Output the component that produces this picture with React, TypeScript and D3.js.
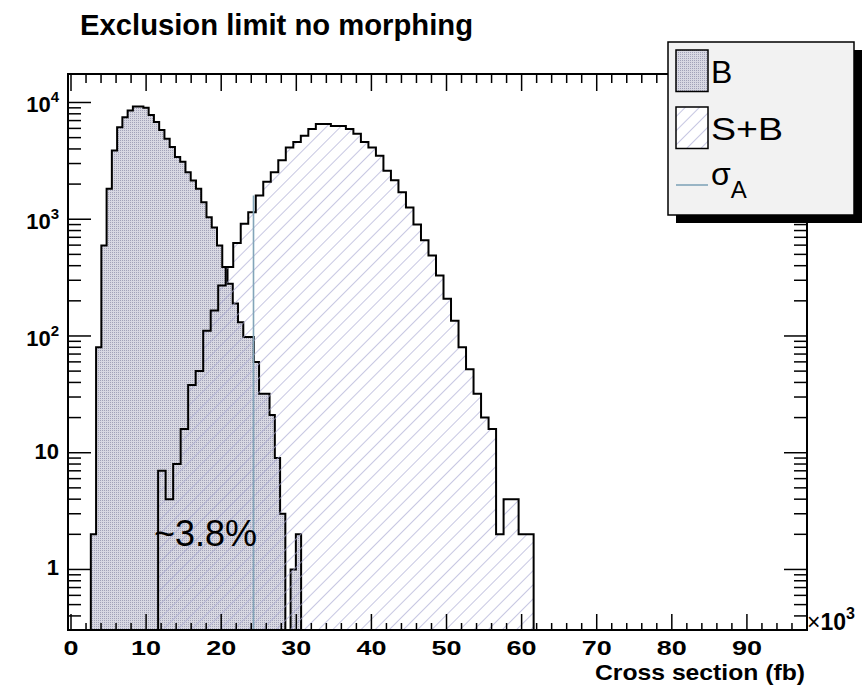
import React from 'react'
import * as d3 from 'd3'

// histogram B (background only)
const bStart = 2.64
const bWidth = 0.7
const bCounts = [
  2, 80, 596, 1820, 3880, 6150, 7480, 8520, 9250, 9250,
  9000, 7800, 6800, 5800, 4900, 4160, 3420, 3100, 2520, 2150,
  1820, 1400, 1040, 850, 596, 390, 280, 190, 131, 98,
  98, 60, 32, 32, 21, 9, 3, 0, 1, 2,
]

// histogram S+B
const sbStart = 11.6
const sbWidth = 1.0
const sbCounts = [
  7, 4, 8, 16, 38, 50, 111, 165, 270, 390,
  625, 915, 1150, 1600, 2090, 2520, 3200, 4120, 4580, 5200,
  5940, 6540, 6540, 6300, 6300, 5940, 5390, 4580, 4120, 3500,
  2600, 2160, 1700, 1260, 900, 660, 490, 330, 208, 135,
  80, 52, 32, 20, 16, 2, 4, 4, 2, 2,
]

const sigmaA = 24.3
const sigmaAHeight = 1600

const xMajor = [0, 10, 20, 30, 40, 50, 60, 70, 80, 90]
const xLabels = ['0', '10', '20', '30', '40', '50', '60', '70', '80', '90']
const yMajor = [1, 10, 100, 1000, 10000]
const yBase = ['1', '10', '10', '10', '10']
const yExp = ['', '', '2', '3', '4']

const title = 'Exclusion limit no morphing'
const xTitle = 'Cross section (fb)'
const legendLabels = ['B', 'S+B']
const annotation = '~3.8%'

const W = 863
const H = 687
const plot = { left: 68, right: 807, top: 74, bottom: 630 }
const yMin = 0.303
const yMax = 17540
const font = "'Liberation Sans', Arial, Helvetica, sans-serif"

const App: React.FunctionComponent = () => {
  const xScale = d3.scaleLinear().domain([-0.4, 98]).range([plot.left, plot.right])
  const yScale = d3.scaleLog().domain([yMin, yMax]).range([plot.bottom, plot.top])

  const histPath = (start: number, width: number, counts: number[]) => {
    const pts: [number, number][] = []
    const yOf = (c: number) => (c > yMin ? yScale(c) : plot.bottom)
    pts.push([xScale(start), plot.bottom])
    counts.forEach((c, i) => pts.push([xScale(start + i * width), yOf(c)]))
    pts.push([xScale(start + counts.length * width), yOf(counts[counts.length - 1])])
    pts.push([xScale(start + counts.length * width), plot.bottom])
    return d3.line().curve(d3.curveStepAfter)(pts) || ''
  }

  const bPath = histPath(bStart, bWidth, bCounts)
  const sbPath = histPath(sbStart, sbWidth, sbCounts)

  const xMinor = d3.range(0, 99, 2).filter(v => v % 10 !== 0)
  const yMinor: number[] = []
  for (let k = -1; k <= 4; k++) {
    for (let m = 2; m <= 9; m++) {
      const v = m * Math.pow(10, k)
      if (v > yMin && v < yMax) yMinor.push(v)
    }
  }

  return (
    <svg
      width={W}
      height={H}
      style={{ position: 'absolute', left: 0, top: 0, background: '#fff' }}
      fontFamily={font}
    >
      <defs>
        <pattern id="dots" width={2} height={2} patternUnits="userSpaceOnUse">
          <rect width={2} height={2} fill="#d8d8e2" shapeRendering="crispEdges" />
          <rect width={1} height={1} fill="#a2a2b8" shapeRendering="crispEdges" />
        </pattern>
        <pattern
          id="hatch"
          width={10}
          height={10}
          patternUnits="userSpaceOnUse"
          patternTransform="rotate(45)"
        >
          <line x1={0} y1={0} x2={0} y2={10} stroke="#a9a9d2" strokeWidth={1.3} />
        </pattern>
        <clipPath id="plotClip">
          <rect x={plot.left} y={plot.top} width={plot.right - plot.left} height={plot.bottom - plot.top} />
        </clipPath>
      </defs>

      <g clipPath="url(#plotClip)">
        <path d={bPath + 'Z'} fill="url(#dots)" />
        <path d={bPath} fill="none" stroke="#000" strokeWidth={2} />
        <path d={sbPath + 'Z'} fill="url(#hatch)" />
        <path d={sbPath} fill="none" stroke="#000" strokeWidth={2} />
        <line
          x1={xScale(sigmaA)}
          x2={xScale(sigmaA)}
          y1={plot.bottom}
          y2={yScale(sigmaAHeight)}
          stroke="#82a5b9"
          strokeWidth={1.6}
        />
      </g>

      <text x={154} y={546} fontSize={36}>{annotation}</text>

      {/* frame */}
      <rect
        x={plot.left}
        y={plot.top}
        width={plot.right - plot.left}
        height={plot.bottom - plot.top}
        fill="none"
        stroke="#000"
        strokeWidth={2}
      />

      {/* x ticks bottom & top */}
      {xMajor.map(v => (
        <g key={'xM' + v}>
          <line x1={xScale(v)} x2={xScale(v)} y1={plot.bottom} y2={plot.bottom - 16} stroke="#000" strokeWidth={1.5} />
          <line x1={xScale(v)} x2={xScale(v)} y1={plot.top} y2={plot.top + 17} stroke="#000" strokeWidth={1.5} />
        </g>
      ))}
      {xMinor.map(v => (
        <g key={'xm' + v}>
          <line x1={xScale(v)} x2={xScale(v)} y1={plot.bottom} y2={plot.bottom - 7} stroke="#000" strokeWidth={1.5} />
          <line x1={xScale(v)} x2={xScale(v)} y1={plot.top} y2={plot.top + 9} stroke="#000" strokeWidth={1.5} />
        </g>
      ))}

      {/* y ticks left & right */}
      {yMajor.map(v => (
        <g key={'yM' + v}>
          <line x1={plot.left} x2={plot.left + 23} y1={yScale(v)} y2={yScale(v)} stroke="#000" strokeWidth={1.5} />
          <line x1={plot.right} x2={plot.right - 23} y1={yScale(v)} y2={yScale(v)} stroke="#000" strokeWidth={1.5} />
        </g>
      ))}
      {yMinor.map(v => (
        <g key={'ym' + v}>
          <line x1={plot.left} x2={plot.left + 13} y1={yScale(v)} y2={yScale(v)} stroke="#000" strokeWidth={1.5} />
          <line x1={plot.right} x2={plot.right - 13} y1={yScale(v)} y2={yScale(v)} stroke="#000" strokeWidth={1.5} />
        </g>
      ))}

      {/* x tick labels */}
      {xMajor.map((v, i) => (
        <text
          key={'xl' + v}
          x={xScale(v)}
          y={655}
          fontSize={21}
          fontWeight="bold"
          textAnchor="middle"
          textLength={15 * xLabels[i].length}
          lengthAdjust="spacingAndGlyphs"
        >
          {xLabels[i]}
        </text>
      ))}

      {/* y tick labels */}
      {yMajor.map((v, i) => (
        <text
          key={'yl' + v}
          x={59}
          y={yScale(v) + (yExp[i] ? 10 : 6)}
          fontSize={22}
          fontWeight="bold"
          textAnchor="end"
        >
          {yBase[i]}
          {yExp[i] && (
            <tspan fontSize={15} dy={-10}>
              {yExp[i]}
            </tspan>
          )}
        </text>
      ))}

      {/* x10^3 */}
      <text x={807} y={630} fontSize={23}>
        <tspan fontWeight="normal">×</tspan>
        <tspan fontWeight="bold">10</tspan>
        <tspan fontWeight="bold" fontSize={16} dy={-11}>3</tspan>
      </text>

      {/* axis title */}
      <text
        x={805}
        y={680}
        fontSize={22}
        fontWeight="bold"
        textAnchor="end"
        textLength={210}
        lengthAdjust="spacingAndGlyphs"
      >
        {xTitle}
      </text>

      {/* title */}
      <text x={80} y={35} fontSize={29} fontWeight="bold" textLength={393} lengthAdjust="spacingAndGlyphs">
        {title}
      </text>

      {/* legend */}
      <rect x={676} y={50} width={186} height={173} fill="#000" />
      <rect x={668} y={42} width={186} height={173} fill="#f2f2f2" stroke="#000" strokeWidth={1.5} />
      <rect x={676} y={50} width={32} height={41.5} fill="url(#dots)" stroke="#000" strokeWidth={1.5} />
      <text x={711} y={83} fontSize={32}>{legendLabels[0]}</text>
      <rect x={676} y={107} width={32} height={41.5} fill="#fff" stroke="none" />
      <rect x={676} y={107} width={32} height={41.5} fill="url(#hatch)" stroke="#000" strokeWidth={1.5} />
      <text x={711} y={140} fontSize={32} textLength={72} lengthAdjust="spacingAndGlyphs">
        {legendLabels[1]}
      </text>
      <line x1={676} x2={708} y1={185} y2={185} stroke="#82a5b9" strokeWidth={1.6} />
      <text x={711} y={185} fontSize={32}>
        σ
        <tspan fontSize={24} dy={13}>A</tspan>
      </text>
    </svg>
  )
}

export default App
